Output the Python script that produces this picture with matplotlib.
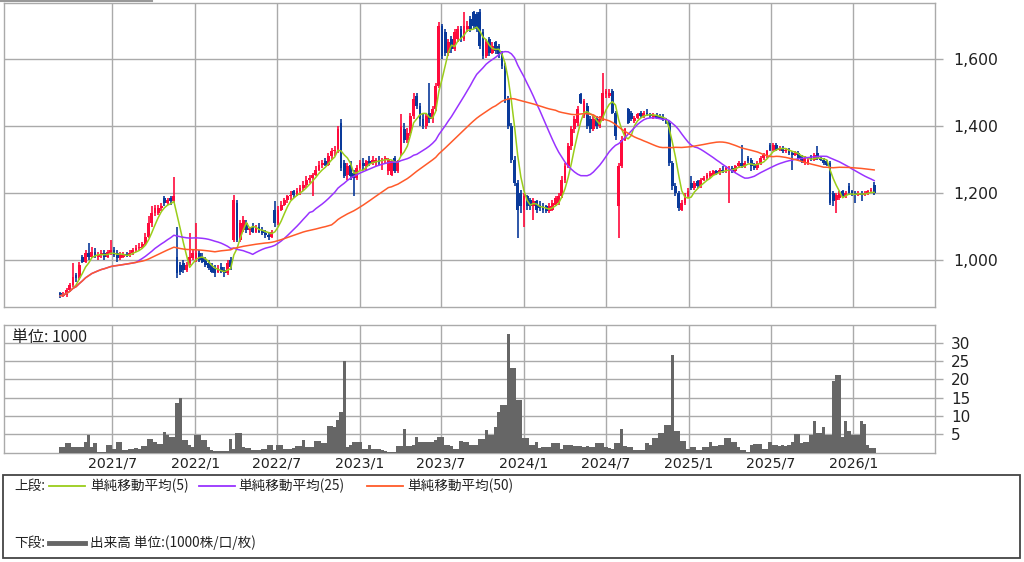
import numpy as np
import pandas as pd
import matplotlib
matplotlib.use("Agg")
import matplotlib.pyplot as plt
import matplotlib.dates as mdates
from matplotlib.patches import Rectangle
from matplotlib.lines import Line2D

# ---------------- data (weekly, first week starting 2021-03-08) ----------------
first_week = "2021-03-08"

opens = [
    900, 893, 895, 910, 925, 955, 945, 1010, 995, 1020,
    1010, 1025, 1010, 1015, 1020, 1010, 1020, 1030, 1020, 1005,
    1010, 1018, 1015, 1022, 1030, 1035, 1040, 1048, 1070, 1110,
    1140, 1140, 1155, 1185, 1170, 1185, 1175, 1010, 985, 990,
    970, 990, 1005, 1000, 1020, 1010, 1000, 990, 985, 975,
    965, 980, 970, 960, 1000, 1060, 1170, 1060, 1090, 1110,
    1090, 1100, 1085, 1100, 1090, 1080, 1075, 1070, 1150, 1110,
    1150, 1165, 1180, 1190, 1205, 1195, 1205, 1215, 1225, 1240,
    1245, 1255, 1270, 1285, 1295, 1285, 1310, 1325, 1330, 1410,
    1290, 1255, 1285, 1260, 1245, 1275, 1290, 1280, 1295, 1290,
    1290, 1300, 1295, 1300, 1265, 1255, 1305, 1265, 1320, 1390,
    1360, 1380, 1430, 1490, 1460, 1420, 1400, 1440, 1420, 1450,
    1520, 1700, 1680, 1620, 1660, 1630, 1660, 1690, 1660, 1690,
    1720, 1740, 1735, 1740, 1680, 1610, 1660, 1620, 1650, 1640,
    1620, 1580, 1480, 1400, 1300, 1230, 1200, 1150, 1190, 1180,
    1160, 1175, 1165, 1160, 1160, 1145, 1150, 1165, 1170, 1190,
    1240, 1280, 1340, 1390, 1410, 1495, 1430, 1460, 1420, 1390,
    1420, 1400, 1420, 1495, 1490, 1505, 1440, 1160, 1280, 1360,
    1450, 1440, 1415, 1425, 1440, 1430, 1440, 1435, 1428, 1432,
    1430, 1428, 1420, 1410, 1290, 1220, 1200, 1150, 1170, 1190,
    1230, 1215, 1235, 1220, 1240, 1245, 1250, 1255, 1265, 1260,
    1270, 1265, 1265, 1275, 1265, 1280, 1290, 1280, 1305, 1300,
    1285, 1275, 1290, 1305, 1310, 1345, 1330, 1345, 1330, 1335,
    1325, 1330, 1320, 1315, 1320, 1310, 1290, 1290, 1310, 1300,
    1320, 1305, 1300, 1295, 1290, 1200, 1180, 1185, 1205, 1190,
    1220, 1205, 1200, 1195, 1200, 1195, 1200, 1205, 1225,
]

highs = [
    905, 905, 915, 930, 990, 960, 995, 1015, 1030, 1050,
    1040, 1035, 1025, 1030, 1030, 1030, 1060, 1040, 1030, 1025,
    1025, 1025, 1030, 1035, 1045, 1050, 1055, 1080, 1130, 1160,
    1165, 1165, 1170, 1190, 1185, 1190, 1248, 1100, 995, 1000,
    995, 1080, 1030, 1110, 1030, 1020, 1010, 1000, 990, 985,
    985, 990, 980, 1000, 1010, 1194, 1180, 1120, 1130, 1120,
    1100, 1110, 1105, 1110, 1100, 1090, 1085, 1090, 1175, 1160,
    1175, 1185, 1195, 1205, 1210, 1215, 1225, 1235, 1250, 1255,
    1260, 1280, 1295, 1300, 1305, 1320, 1335, 1340, 1400, 1420,
    1300, 1290, 1295, 1270, 1285, 1300, 1305, 1300, 1310, 1310,
    1305, 1310, 1305, 1310, 1305, 1300, 1310, 1300, 1435, 1410,
    1395, 1440, 1500, 1500, 1470, 1440, 1440, 1530, 1460, 1530,
    1710, 1705, 1690, 1660, 1670, 1690, 1700, 1700, 1740, 1715,
    1730, 1745, 1740, 1750, 1690, 1660, 1665, 1650, 1655, 1645,
    1625, 1590, 1490, 1410, 1310, 1240, 1210, 1200, 1195, 1185,
    1185, 1180, 1175, 1170, 1165, 1170, 1180, 1190, 1200, 1250,
    1290, 1350, 1400, 1430, 1460, 1500, 1480, 1470, 1430, 1430,
    1430, 1430, 1560, 1510, 1510, 1510, 1445, 1290, 1370, 1395,
    1455, 1445, 1430, 1440, 1445, 1445, 1450, 1440, 1440, 1440,
    1435, 1435, 1425, 1415, 1295, 1230, 1205, 1180, 1200, 1215,
    1250, 1235, 1240, 1245, 1250, 1260, 1265, 1270, 1270, 1275,
    1280, 1280, 1280, 1280, 1285, 1295, 1345, 1295, 1310, 1305,
    1290, 1295, 1310, 1320, 1330, 1350, 1350, 1350, 1340, 1340,
    1335, 1335, 1325, 1325, 1325, 1315, 1310, 1305, 1315, 1320,
    1340, 1310, 1305, 1300, 1295, 1205, 1200, 1205, 1210, 1205,
    1230, 1210, 1205, 1205, 1205, 1205, 1210, 1215, 1233,
]

lows = [
    885, 888, 890, 905, 920, 935, 940, 990, 990, 1000,
    1005, 1005, 1000, 1005, 1000, 1005, 1015, 1010, 995, 1000,
    1005, 1010, 1010, 1015, 1025, 1030, 1035, 1045, 1065, 1100,
    1130, 1135, 1145, 1160, 1165, 1165, 1170, 945, 955, 960,
    965, 985, 1000, 995, 995, 990, 980, 970, 960, 950,
    960, 960, 950, 955, 970, 1055, 1055, 1055, 1085, 1080,
    1075, 1080, 1080, 1080, 1075, 1065, 1060, 1065, 1100, 1105,
    1145, 1160, 1170, 1180, 1185, 1190, 1195, 1205, 1215, 1230,
    1190, 1250, 1265, 1275, 1280, 1280, 1300, 1310, 1320, 1265,
    1245, 1240, 1240, 1190, 1240, 1265, 1270, 1265, 1280, 1285,
    1280, 1285, 1270, 1290, 1255, 1250, 1260, 1260, 1310, 1350,
    1350, 1370, 1420, 1450, 1400, 1390, 1390, 1410, 1410, 1445,
    1515, 1600, 1610, 1610, 1620, 1625, 1650, 1650, 1655, 1680,
    1680, 1690, 1680, 1630, 1600, 1605, 1610, 1615, 1615, 1605,
    1570, 1470, 1390, 1290, 1220, 1066, 1140, 1100, 1150, 1150,
    1120, 1140, 1145, 1140, 1140, 1140, 1145, 1160, 1165, 1185,
    1230, 1275, 1330, 1380, 1400, 1465, 1425, 1390, 1380, 1385,
    1390, 1395, 1415, 1485, 1485, 1435, 1360, 1066, 1275, 1355,
    1405, 1415, 1410, 1420, 1425, 1425, 1430, 1425, 1420, 1420,
    1420, 1415, 1405, 1280, 1210, 1190, 1145, 1145, 1165, 1185,
    1210, 1210, 1215, 1215, 1235, 1240, 1245, 1250, 1255, 1255,
    1260, 1260, 1170, 1260, 1260, 1275, 1275, 1275, 1290, 1265,
    1270, 1270, 1285, 1300, 1305, 1325, 1325, 1325, 1325, 1320,
    1320, 1315, 1270, 1310, 1300, 1290, 1285, 1285, 1295, 1295,
    1300, 1295, 1285, 1280, 1165, 1160, 1140, 1180, 1185, 1185,
    1195, 1190, 1170, 1190, 1175, 1190, 1195, 1200, 1195,
]

closes = [
    893, 898, 910, 925, 950, 945, 985, 995, 1020, 1010,
    1025, 1010, 1015, 1020, 1010, 1025, 1030, 1015, 1005, 1015,
    1018, 1015, 1022, 1030, 1035, 1040, 1048, 1070, 1110, 1140,
    1155, 1155, 1160, 1170, 1180, 1175, 1190, 960, 965, 970,
    985, 1010, 1020, 1020, 1000, 995, 985, 975, 965, 960,
    975, 965, 960, 990, 980, 1180, 1060, 1110, 1120, 1090,
    1095, 1085, 1100, 1085, 1080, 1075, 1070, 1085, 1110, 1150,
    1165, 1180, 1190, 1195, 1195, 1205, 1215, 1225, 1240, 1245,
    1255, 1270, 1285, 1290, 1285, 1310, 1325, 1330, 1390, 1275,
    1250, 1280, 1250, 1245, 1275, 1290, 1280, 1295, 1290, 1300,
    1300, 1295, 1300, 1305, 1300, 1295, 1265, 1295, 1400, 1360,
    1380, 1430, 1480, 1460, 1420, 1400, 1430, 1420, 1450, 1520,
    1700, 1610, 1620, 1650, 1630, 1680, 1690, 1660, 1700, 1700,
    1690, 1700, 1690, 1640, 1610, 1650, 1620, 1640, 1625, 1615,
    1580, 1480, 1400, 1300, 1230, 1150, 1160, 1190, 1160, 1160,
    1175, 1150, 1155, 1150, 1145, 1160, 1170, 1185, 1190, 1240,
    1280, 1340, 1390, 1420, 1450, 1470, 1475, 1400, 1390, 1420,
    1400, 1420, 1500, 1505, 1500, 1440, 1370, 1280, 1360, 1390,
    1410, 1420, 1425, 1435, 1430, 1440, 1435, 1430, 1432, 1425,
    1425, 1420, 1410, 1290, 1220, 1200, 1155, 1170, 1195, 1205,
    1215, 1230, 1220, 1240, 1245, 1255, 1260, 1265, 1260, 1270,
    1265, 1275, 1275, 1265, 1280, 1290, 1280, 1290, 1295, 1280,
    1275, 1290, 1305, 1315, 1325, 1330, 1345, 1330, 1335, 1325,
    1330, 1320, 1315, 1320, 1305, 1295, 1305, 1300, 1300, 1315,
    1305, 1300, 1290, 1285, 1170, 1175, 1195, 1200, 1190, 1200,
    1200, 1195, 1195, 1200, 1195, 1200, 1205, 1210, 1200,
]

volumes = [
    1.6, 1.6, 2.5, 2.5, 1.5, 1.5, 1.4, 1.5, 2.9, 4.8,
    1.6, 2.5, 0.3, 0.3, 0.3, 2.2, 2.2, 1.0, 3.0, 3.0,
    0.8, 0.8, 1.0, 1.0, 1.2, 1.0, 1.8, 1.8, 3.6, 3.6,
    3.0, 2.4, 2.4, 5.7, 4.8, 4.2, 4.2, 13.5, 14.8, 3.4,
    3.4, 2.0, 1.6, 4.8, 4.8, 3.4, 3.4, 1.6, 0.6, 0.4,
    0.4, 0.4, 0.4, 0.4, 3.7, 1.0, 5.4, 5.4, 1.6, 1.3,
    1.3, 0.6, 0.8, 0.8, 0.9, 1.0, 2.0, 2.0, 0.6, 2.2,
    2.2, 1.0, 1.0, 1.0, 1.3, 1.7, 1.7, 3.4, 1.6, 1.6,
    1.6, 3.2, 3.2, 2.7, 2.7, 7.3, 7.3, 7.1, 8.9, 11.2,
    25.0, 1.6, 2.2, 2.9, 2.9, 2.9, 1.0, 1.0, 2.2, 1.0,
    1.0, 1.0, 0.8, 0.5, 0.3, 0.3, 0.3, 1.8, 1.8, 6.4,
    1.8, 1.8, 2.0, 4.2, 3.0, 3.0, 3.0, 3.0, 3.0, 3.4,
    4.3, 4.3, 2.0, 2.0, 1.7, 1.0, 1.0, 3.2, 2.9, 2.9,
    2.0, 2.0, 2.0, 3.8, 3.8, 6.3, 4.8, 4.8, 7.1, 11.2,
    13.0, 13.0, 32.3, 23.0, 23.0, 14.4, 14.4, 3.9, 3.9, 2.1,
    2.1, 3.0, 1.2, 1.6, 1.6, 1.6, 2.7, 2.7, 2.5, 1.0,
    2.0, 2.0, 2.0, 1.8, 1.8, 1.8, 1.6, 1.8, 1.5, 1.5,
    2.5, 2.7, 2.7, 1.6, 1.2, 1.0, 2.5, 2.5, 6.4, 1.8,
    1.6, 1.6, 0.6, 0.6, 0.6, 0.6, 2.5, 2.0, 4.0, 4.0,
    5.3, 5.3, 7.6, 7.6, 26.7, 6.0, 6.0, 3.3, 3.3, 1.0,
    1.6, 1.6, 0.6, 0.6, 1.6, 1.6, 3.0, 1.8, 1.8, 2.0,
    2.0, 4.0, 4.0, 3.0, 3.0, 1.6, 0.6, 0.6, 0.3, 2.0,
    2.4, 2.4, 2.4, 1.0, 1.0, 3.0, 2.2, 2.2, 1.8, 2.0,
    1.8, 2.0, 3.0, 5.0, 5.0, 2.5, 3.0, 3.0, 4.8, 8.6,
    5.4, 5.4, 7.0, 4.8, 4.8, 19.4, 21.2, 21.2, 4.3, 8.6,
    6.0, 4.8, 4.8, 4.8, 8.6, 7.9, 2.0, 1.3, 1.3,
]

date_ticks = ["2021-07-01", "2022-01-01", "2022-07-01", "2023-01-01", "2023-07-01",
              "2024-01-01", "2024-07-01", "2025-01-01", "2025-07-01", "2026-01-01"]
date_labels = ["2021/7", "2022/1", "2022/7", "2023/1", "2023/7",
               "2024/1", "2024/7", "2025/1", "2025/7", "2026/1"]
price_ticks = [1000, 1200, 1400, 1600]
volume_ticks = [5, 10, 15, 20, 25, 30]
ma_periods = [5, 25, 50]
ma_labels = ["単純移動平均(5)", "単純移動平均(25)", "単純移動平均(50)"]

# ---------------- styles ----------------
UP = "#ff0a3c"
DOWN = "#0a3a9a"
MA_COLORS = ["#9acd1a", "#9933ff", "#ff5a2a"]
GRID = "#aaaaaa"
VOL = "#666666"
CJK = ["Noto Sans CJK JP", "DejaVu Sans"]

W, H = 1024, 562
fig = plt.figure(figsize=(W / 100, H / 100), dpi=100)
fig.patch.set_facecolor("white")


def fx(px):
    return px / W


def fy(py):
    return 1 - py / H


ax = fig.add_axes([fx(4), fy(307), fx(931), (307 - 3) / H])
axv = fig.add_axes([fx(4), fy(452.6), fx(931), (452.6 - 325) / H])

dates = pd.date_range(first_week, periods=len(closes), freq="7D")
x = mdates.date2num(dates)
o = np.array(opens, float)
h = np.array(highs, float)
l = np.array(lows, float)
c = np.array(closes, float)
up = c >= o
colors = np.where(up, UP, DOWN)

xmin = mdates.date2num(pd.Timestamp("2020-11-03"))
xmax = mdates.date2num(pd.Timestamp("2026-07-01"))

# candles
ax.vlines(x, l, h, colors=colors, linewidth=1.2, zorder=3)
body_bottom = np.minimum(o, c)
body_h = np.maximum(np.abs(c - o), 4)
ax.bar(x, body_h, bottom=body_bottom, width=6.2, color=colors, linewidth=0, zorder=3)

# moving averages
cs = pd.Series(c)
for p, col in zip(ma_periods, MA_COLORS):
    ma = cs.rolling(p, min_periods=1).mean()
    ax.plot(x, ma, color=col, linewidth=1.1, zorder=4)

ax.set_xlim(xmin, xmax)
ax.set_ylim(859.5, 1768)
tick_x = mdates.date2num(pd.to_datetime(date_ticks))
ax.set_xticks(tick_x)
ax.set_xticklabels([])
ax.tick_params(axis="x", length=0)
ax.yaxis.tick_right()
ax.set_yticks(price_ticks)
ax.set_yticklabels([f"{v:,}" for v in price_ticks])
ax.tick_params(axis="y", length=6, width=1, color=GRID, pad=7,
               labelsize=11.3, labelcolor="#222222")
ax.grid(True, color=GRID, linewidth=1.0, zorder=0)
ax.set_axisbelow(True)
for s in ax.spines.values():
    s.set_color(GRID)
    s.set_linewidth(1.0)

# volume
axv.bar(x, volumes, width=7.0, color=VOL, linewidth=0, zorder=3)
axv.set_xlim(xmin, xmax)
axv.set_ylim(0, 34.8)
axv.set_xticks(tick_x)
axv.set_xticklabels(date_labels)
axv.tick_params(axis="x", length=0, pad=3, labelsize=10.2, labelcolor="#222222")
axv.yaxis.tick_right()
axv.set_yticks(volume_ticks)
axv.tick_params(axis="y", length=6, width=1, color=GRID, pad=5.5,
                labelsize=11.0, labelcolor="#222222")
axv.grid(True, color=GRID, linewidth=1.0, zorder=0)
axv.set_axisbelow(True)
for s in axv.spines.values():
    s.set_color(GRID)
    s.set_linewidth(1.0)
axv.text(0.009, 0.905, "単位: 1000", transform=axv.transAxes, ha="left", va="center",
         fontsize=11.5, family=CJK, color="#222222")

# top-left tab line
fig.add_artist(Line2D([0, fx(152)], [fy(0.5), fy(0.5)], color="#999999", linewidth=1.5))

# legend box
fig.add_artist(Rectangle((fx(3), fy(558)), fx(1017), (558 - 475) / H, fill=False,
                         edgecolor="#444444", linewidth=1.3))
row1 = fy(486)
row2 = fy(543)
LFS = 9.8
fig.text(fx(14), row1, "上段:", ha="left", va="center", fontsize=LFS, family=CJK, color="#222222")
seg_x = [49, 199, 367]
txt_x = [90, 238, 407]
for sx, tx, col, lab in zip(seg_x, txt_x, MA_COLORS, ma_labels):
    fig.add_artist(Line2D([fx(sx), fx(sx + 36)], [row1, row1], color=col, linewidth=1.3))
    fig.text(fx(tx), row1, lab, ha="left", va="center", fontsize=LFS, family=CJK, color="#222222")
fig.text(fx(14), row2, "下段:", ha="left", va="center", fontsize=LFS, family=CJK, color="#222222")
fig.add_artist(Line2D([fx(49), fx(85)], [row2, row2], color=VOL, linewidth=3.5))
fig.text(fx(90), row2, "出来高 単位:(1000株/口/枚)", ha="left", va="center", fontsize=LFS,
         family=CJK, color="#222222")

fig.savefig("out.png", dpi=100, facecolor="white")
